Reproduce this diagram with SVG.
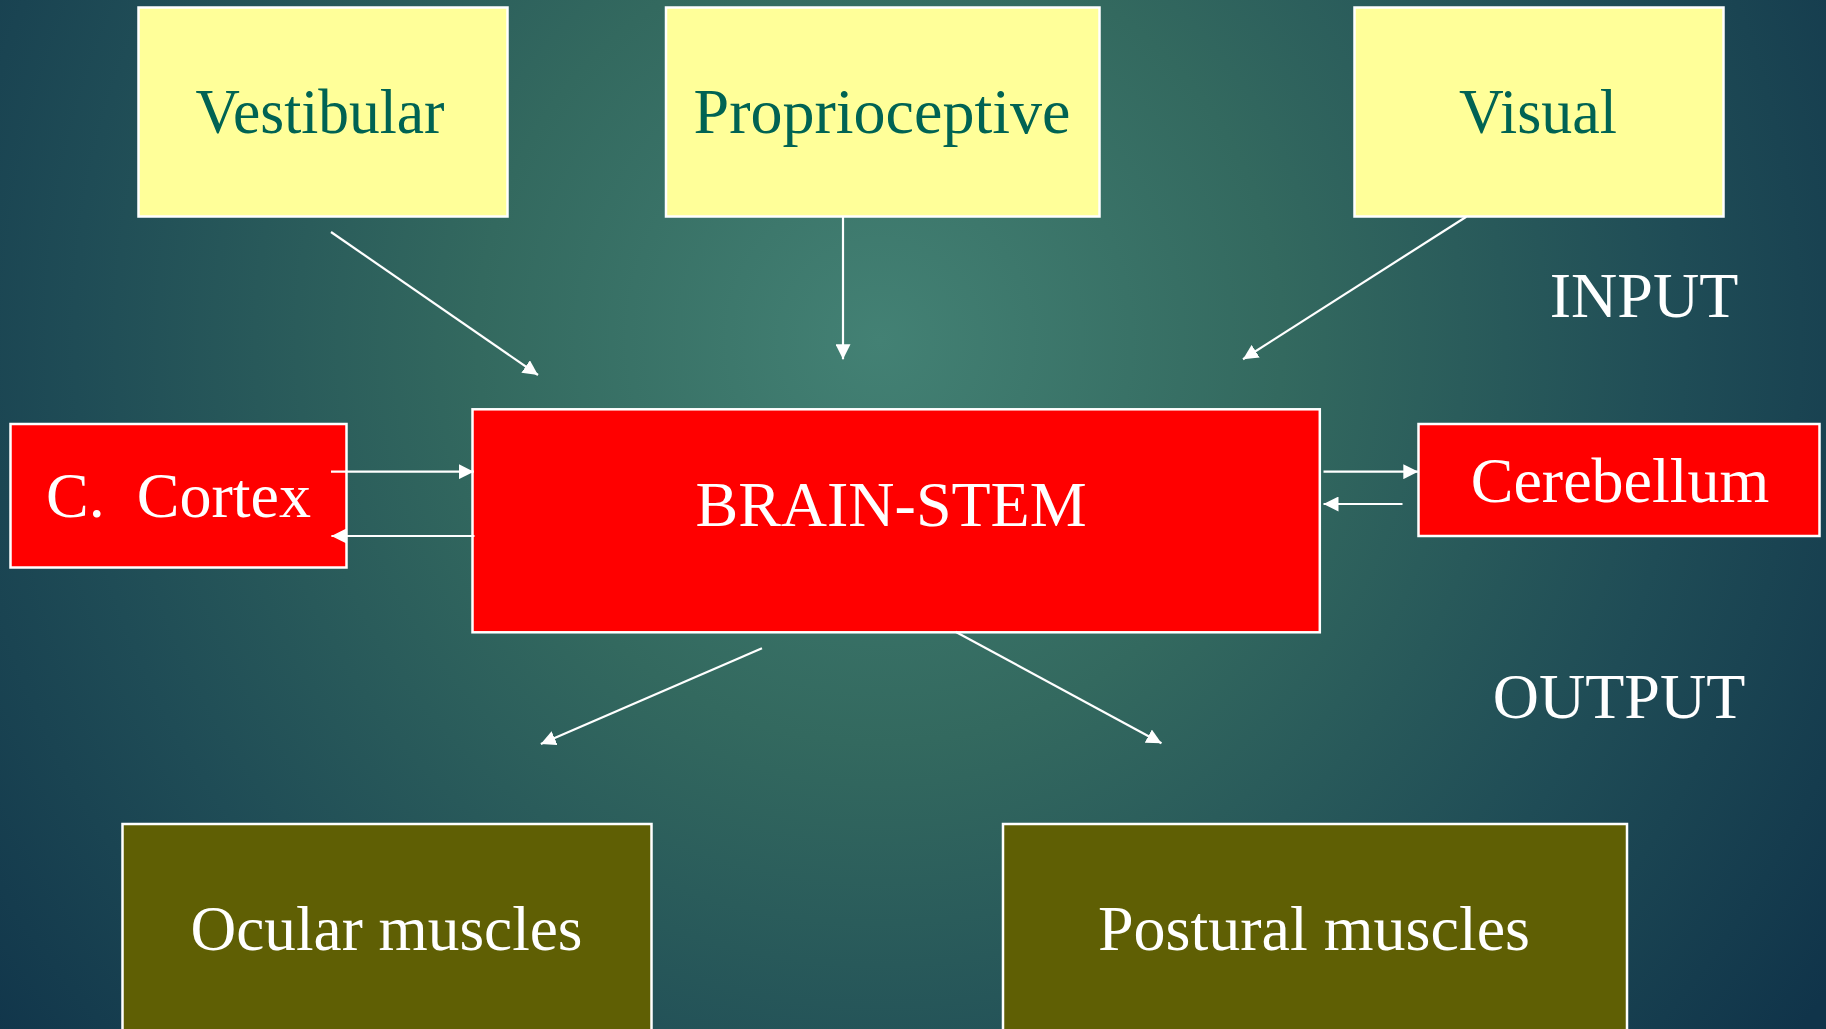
<svg xmlns="http://www.w3.org/2000/svg" width="1826" height="1029" viewBox="0 0 1826 1029">
<defs>
<radialGradient id="bg" gradientUnits="userSpaceOnUse" cx="880" cy="340" r="1150">
<stop offset="0" stop-color="#438174"/>
<stop offset="0.35" stop-color="#33695f"/>
<stop offset="0.7" stop-color="#1f4c56"/>
<stop offset="1" stop-color="#10344a"/>
</radialGradient>
<marker id="ah" markerUnits="userSpaceOnUse" markerWidth="15" markerHeight="15" refX="15" refY="7.5" orient="auto">
<path d="M0,0 L15,7.5 L0,15 z" fill="#ffffff"/>
</marker>
<style>
.in rect{fill:#ffff99;stroke:#ffffff;stroke-width:2.5}
.in text{fill:#006353}
.red rect{fill:#ff0000;stroke:#ffffff;stroke-width:2.5}
.out rect{fill:#5f5f04;stroke:#ffffff;stroke-width:2.5}
text{font-family:"Liberation Serif","Times New Roman",serif;font-size:64px;text-anchor:middle}
.w{fill:#ffffff}
#connectors line{stroke:#ffffff;stroke-width:2.2;marker-end:url(#ah)}
</style>
</defs>
<rect x="0" y="0" width="1826" height="1029" fill="url(#bg)"/>

<g id="vestibular" class="in">
<rect x="138.5" y="7.5" width="369" height="209"/>
<text x="320" y="133" textLength="249" lengthAdjust="spacingAndGlyphs">Vestibular</text>
</g>
<g id="proprioceptive" class="in">
<rect x="666" y="7.5" width="433.5" height="209"/>
<text x="882" y="133">Proprioceptive</text>
</g>
<g id="visual" class="in">
<rect x="1354.5" y="7.5" width="369" height="209"/>
<text x="1538" y="133" textLength="158" lengthAdjust="spacingAndGlyphs">Visual</text>
</g>

<g id="input-label"><text class="w" x="1644" y="316.5">INPUT</text></g>
<g id="output-label"><text class="w" x="1619" y="718">OUTPUT</text></g>

<g id="cortex" class="red">
<rect x="10.5" y="424" width="336" height="143.5"/>
<text class="w" x="178.5" y="517" xml:space="preserve">C.  Cortex</text>
</g>
<g id="brainstem" class="red">
<rect x="472.5" y="409.3" width="847.3" height="223"/>
<text class="w" x="891" y="526">BRAIN-STEM</text>
</g>
<g id="cerebellum" class="red">
<rect x="1418.5" y="424" width="401" height="112"/>
<text class="w" x="1620" y="501.5">Cerebellum</text>
</g>

<g id="ocular" class="out">
<rect x="122.5" y="824" width="529" height="215"/>
<text class="w" x="386.5" y="950" textLength="392" lengthAdjust="spacingAndGlyphs">Ocular muscles</text>
</g>
<g id="postural" class="out">
<rect x="1003" y="824" width="624" height="215"/>
<text class="w" x="1314" y="949.5">Postural muscles</text>
</g>

<g id="connectors">
<line x1="331" y1="232" x2="538" y2="375"/>
<line x1="843" y1="216.7" x2="843" y2="359.3"/>
<line x1="1466.3" y1="216.7" x2="1243" y2="359.3"/>
<line x1="331" y1="471.7" x2="473.8" y2="471.7"/>
<line x1="474.5" y1="536" x2="331.4" y2="536"/>
<line x1="1323.5" y1="471.7" x2="1418.3" y2="471.7"/>
<line x1="1402.5" y1="504" x2="1323.5" y2="504"/>
<line x1="762" y1="648.3" x2="540.8" y2="744"/>
<line x1="955.5" y1="631.7" x2="1161.5" y2="743.3"/>
</g>
</svg>
